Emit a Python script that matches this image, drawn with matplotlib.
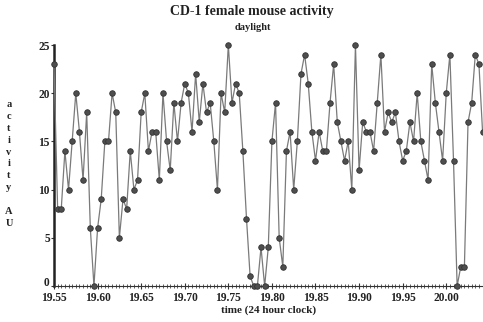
import numpy as np
import matplotlib
matplotlib.use("Agg")
import matplotlib.pyplot as plt
from matplotlib.ticker import MultipleLocator, FixedLocator

# ---- data (sampled every 15 s, time in decimal hours) ----
t_start = 19.55
t_step = 1.0 / 240.0
activity = [
    23, 8, 8, 14, 10, 15, 20, 16, 11, 18, 6, 0, 6, 9, 15, 15, 20, 18, 5, 9,
    8, 14, 10, 11, 18, 20, 14, 16, 16, 11, 20, 15, 12, 19, 15, 19, 21, 20, 16,
    22, 17, 21, 18, 19, 15, 10, 20, 18, 25, 19, 21, 20, 14, 7, 1, 0, 0, 4, 0,
    4, 15, 19, 5, 2, 14, 16, 10, 15, 22, 24, 21, 16, 13, 16, 14, 14, 19,
    23, 17, 15, 13, 15, 10, 25, 12, 17, 16, 16, 14, 19, 24, 16, 18, 17, 18,
    15, 13, 14, 17, 15, 20, 15, 13, 11, 23, 19, 16, 13, 20, 24, 13, 0, 2, 2,
    17, 19, 24, 23, 16,
]
times = t_start + t_step * np.arange(len(activity))
x_ticks = [19.55, 19.60, 19.65, 19.70, 19.75, 19.80, 19.85, 19.90, 19.95, 20.00]
x_tick_labels = ["19.55", "19.60", "19.65", "19.70", "19.75", "19.80",
                 "19.85", "19.90", "19.95", "20.00"]
y_ticks = [0, 5, 10, 15, 20, 25]

title = "CD-1 female mouse activity"
subtitle = "daylight"
xlabel = "time (24 hour clock)"
ylabel_letters = ["a", "c", "t", "i", "v", "i", "t", "y", "", "A", "U"]

serif = ["Liberation Serif", "DejaVu Serif"]

fig = plt.figure(figsize=(4.83, 3.22), dpi=100)
ax = fig.add_axes([54 / 483, 36 / 322, 1 - 54 / 483, (286 - 45) / 322])

ax.plot(times, activity, color="#7a7a7a", lw=0.9, marker="o", ms=4.0,
        mfc="#4e4e4e", mec="#333333", mew=0.6, clip_on=False, zorder=3)

ax.set_xlim(t_start, times[-1] + 0.0005)
ax.set_ylim(0, 25)

for s in ["top", "right"]:
    ax.spines[s].set_visible(False)
ax.spines["left"].set_linewidth(1.8)
ax.spines["left"].set_color("#222222")
ax.spines["bottom"].set_linewidth(0.8)
ax.spines["bottom"].set_color("#333333")
ax.spines["bottom"].set_linestyle((0, (1, 1)))

ax.xaxis.set_major_locator(FixedLocator(x_ticks))
ax.set_xticklabels(x_tick_labels)
ax.xaxis.set_minor_locator(MultipleLocator(t_step))
ax.yaxis.set_major_locator(FixedLocator(y_ticks))

ax.tick_params(axis="x", which="major", direction="inout", length=4, width=0.8,
               color="#333333", pad=2)
ax.tick_params(axis="x", which="minor", direction="inout", length=2.5, width=0.6,
               color="#444444")
ax.tick_params(axis="y", which="major", direction="out", length=2, width=0.8,
               color="#333333", pad=1)

for lab in ax.get_xticklabels() + ax.get_yticklabels():
    lab.set_fontfamily(serif)
    lab.set_fontweight("bold")
    lab.set_fontsize(8.3)
    lab.set_color("#222222")
ax.get_yticklabels()[0].set_verticalalignment("baseline")

fig.text(0.522, 0.965, title, ha="center", va="center", fontfamily=serif,
         fontweight="bold", fontsize=10, color="#222222")
fig.text(0.524, 0.915, subtitle, ha="center", va="center", fontfamily=serif,
         fontweight="bold", fontsize=7.5, color="#222222")
fig.text(269 / 483, 1 - 310 / 322, xlabel, ha="center", va="center",
         fontfamily=serif, fontweight="bold", fontsize=8, color="#222222")
fig.text(9 / 483, 1 - 164 / 322, "\n".join(ylabel_letters), ha="center",
         va="center", fontfamily=serif, fontweight="bold", fontsize=7.5,
         color="#222222", linespacing=1.42)

fig.savefig("out.png", dpi=100)
